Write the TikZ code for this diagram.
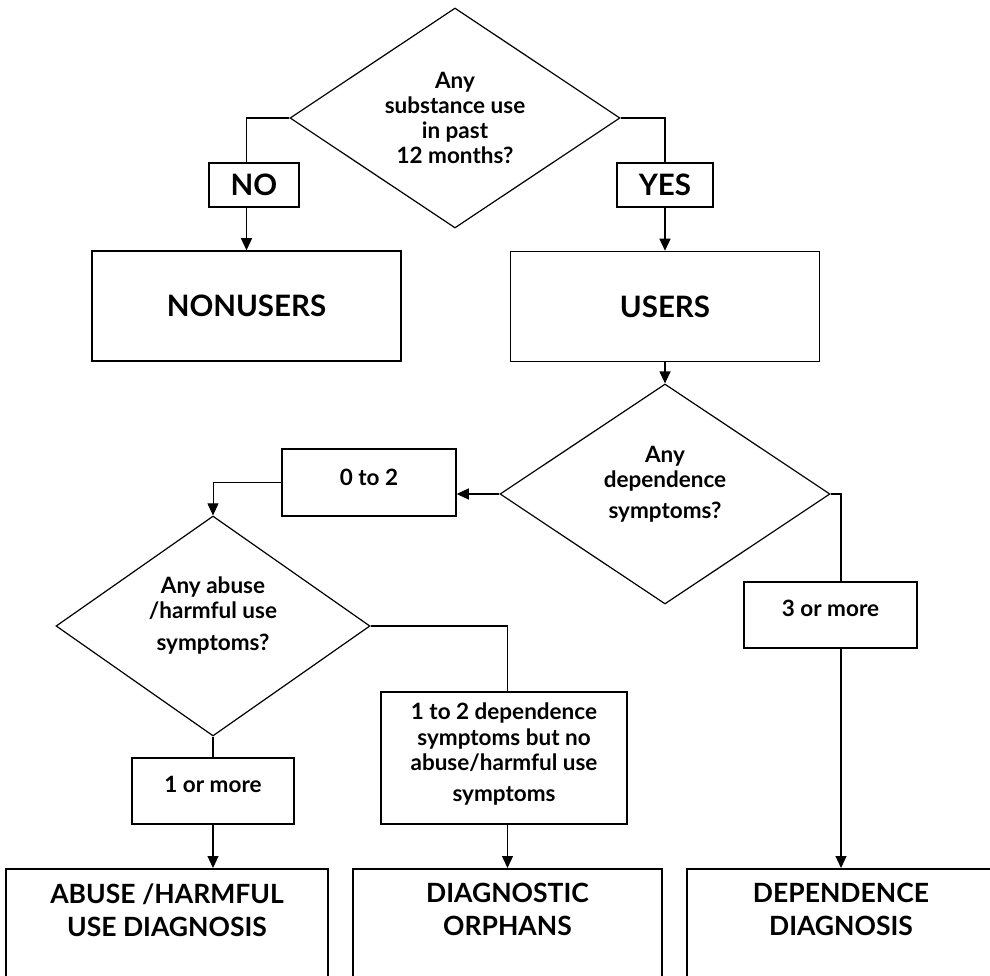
\documentclass[tikz,border=0pt]{standalone}
\usepackage{fontspec}
\setmainfont{Lato}
\usetikzlibrary{shapes.geometric,arrows.meta}

\newcommand{\askfont}{\fontsize{22.5}{25}\selectfont\bfseries}
\newcommand{\bigfont}{\fontsize{29.5}{31}\selectfont\bfseries}
\newcommand{\dxfont}{\fontsize{26.5}{33}\selectfont\bfseries}

\tikzset{
  question/.style={draw, diamond, line width=1.2pt, inner sep=0pt, minimum width=330pt, minimum height=220pt},
  answer/.style={draw, rectangle, line width=1.5pt, inner sep=0pt, align=center, font=\askfont},
  group/.style={draw, rectangle, line width=1.5pt, inner sep=0pt, font=\bigfont, minimum width=309pt, minimum height=110pt},
  diagnosis/.style={draw, rectangle, line width=1.5pt, inner sep=0pt, anchor=north, minimum height=160pt},
  asktext/.style={anchor=center, align=center, font=\askfont},
  dxtext/.style={anchor=north, align=center, font=\dxfont},
  link/.style={line width=1.2pt},
  flow/.style={line width=1.2pt, -{Triangle[length=12pt,width=11pt]}},
}

\begin{document}
\begin{tikzpicture}[x=1pt, y=-1pt]
  \useasboundingbox (0,0) rectangle (990,976);
  \clip (0,0) rectangle (990,976);

  %QUESTIONS
  \node[question, label={[asktext]center:Any\\substance use\\in past\\12 months?}] (q1) at (455,118) {};
  \node[question, label={[asktext, yshift=10pt]center:Any\\dependence\\[6pt]symptoms?}] (q2) at (665,494) {};
  \node[question, minimum width=314pt, label={[asktext, yshift=10pt]center:Any abuse\\/harmful use\\[7pt]symptoms?}] (q3) at (213,626) {};

  %ANSWERS
  \node[answer, font=\bigfont, minimum width=90pt, minimum height=44pt] (no) at (254,185) {NO};
  \node[answer, font=\bigfont, minimum width=96pt, minimum height=44pt] (yes) at (665,185) {YES};
  \node[answer, minimum width=174pt, minimum height=67pt, label={[asktext, yshift=5pt]center:0 to 2}] (lowdep) at (369,482.5) {};
  \node[answer, minimum width=173pt, minimum height=66pt, label={[asktext, yshift=7pt]center:3 or more}] (highdep) at (830.5,615) {};
  \node[answer, minimum width=162pt, minimum height=66pt, label={[asktext, yshift=7pt]center:1 or more}] (abuse) at (213,791) {};
  \node[answer, minimum width=246pt, minimum height=132pt, label={[asktext, yshift=4pt]center:1 to 2 dependence\\[1pt]symptoms but no\\abuse/harmful use\\[6pt]symptoms}] (orphlabel) at (504,758) {};

  %GROUPS
  \node[group] (nonusers) at (246.5,306) {NONUSERS};
  \node[group] (users) at (665,306.5) {USERS};

  %DIAGNOSES
  \node[diagnosis, minimum width=322pt, label={[dxtext, yshift=-12pt]north:ABUSE /HARMFUL\\USE DIAGNOSIS}] (abusedx) at (167,868) {};
  \node[diagnosis, minimum width=309pt, label={[dxtext, yshift=-12pt]north:DIAGNOSTIC\\ORPHANS}] (orphans) at (507.5,868) {};
  \node[diagnosis, minimum width=308pt, label={[dxtext, yshift=-12pt]north:DEPENDENCE\\DIAGNOSIS}] (depdx) at (841,868) {};

  %ARROWS
  \draw[link] (q1.west) -| (nonusers.north |- no.north);
  \draw[flow] (nonusers.north |- no.south) -- (nonusers.north);
  \draw[link] (q1.east) -| (yes.north);
  \draw[flow] (yes.south) -- (users.north);
  \draw[flow] (users.south) -- (q2.north);
  \draw[flow] (q2.west) -- (q2.west -| lowdep.east);
  \draw[flow, line width=0.8pt] (lowdep.west) -| (q3.north);
  \draw[link] (q2.east) -| (depdx.north |- highdep.north);
  \draw[flow] (depdx.north |- highdep.south) -- (depdx.north);
  \draw[link] (q3.south) -- (abuse.north);
  \draw[flow] (abuse.south) -- (abuse.south |- abusedx.north);
  \draw[link] (q3.east) -| (orphans.north |- orphlabel.north);
  \draw[flow] (orphans.north |- orphlabel.south) -- (orphans.north);
\end{tikzpicture}
\end{document}
